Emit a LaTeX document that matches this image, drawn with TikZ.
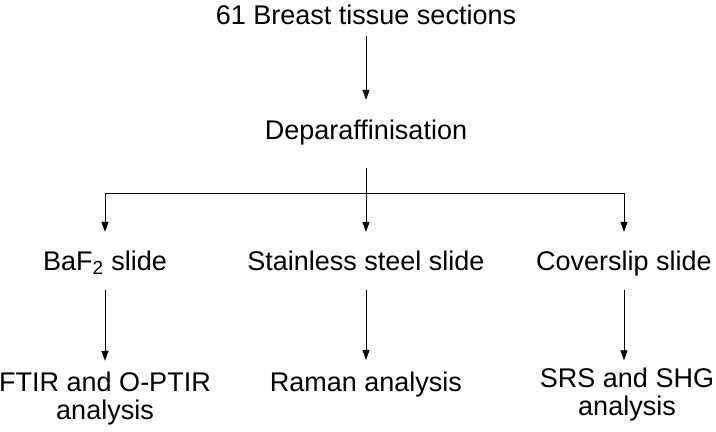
\documentclass[tikz,border=0pt]{standalone}
\usepackage{fontspec}
\setmainfont{Liberation Sans}
\usetikzlibrary{arrows.meta, positioning}

\begin{document}
\begin{tikzpicture}[x=0.025cm,y=-0.025cm,font=\fontsize{19.2}{19.6}\selectfont,
    >={Triangle[length=7pt,width=5pt]},
    every node/.style={inner sep=0pt},
    label/.style={anchor=base,text height=14pt,text depth=4pt},
    multi/.style={anchor=north,align=center}]
\useasboundingbox (0,0) rectangle (716,432);

\node[label] (sections) at (366,25) {61 Breast tissue sections};
\node[label] (deparaf) at (366,140) {Deparaffinisation};

\node[label] (baf) at (105,270) {BaF\textsubscript{2} slide};
\node[label] (steel) at (366,270) {Stainless steel slide};
\node[label] (cover) at (624,270) {Coverslip slide};

\node[multi] (ftir) at (105,372) {FTIR and O-PTIR\\analysis};
\node[label] (raman) at (366,391) {Raman analysis};
\node[multi] (srs) at (627,368) {SRS and SHG\\analysis};

\coordinate (split) at (366,193);

\draw [->,shorten <=3.8pt,shorten >=14.4pt] (sections) -- (deparaf);
\draw [shorten <=15.9pt] (deparaf) -- (split);
\draw [->,shorten >=13pt] (split) -| (baf);
\draw [->,shorten >=13pt] (split) -- (steel);
\draw [->,shorten >=13pt] (split) -| (cover);

\draw [->,shorten <=10.2pt,shorten >=8pt] (baf) -- (ftir);
\draw [->,shorten <=10.2pt,shorten >=8pt] (steel) -- (raman);
\draw [->,shorten <=10.2pt,shorten >=5.5pt] (cover) -- (cover |- srs.north);

\end{tikzpicture}
\end{document}
